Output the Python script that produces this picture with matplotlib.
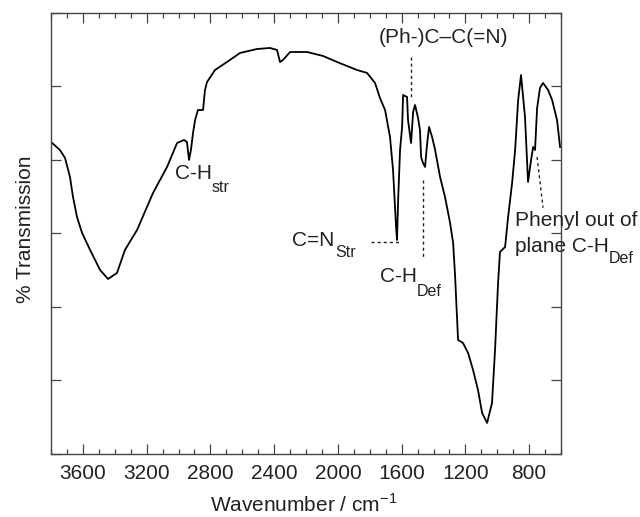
import matplotlib
matplotlib.use("Agg")
import matplotlib.pyplot as plt
from matplotlib.ticker import MultipleLocator, NullFormatter

plt.rcParams['font.family'] = ['Liberation Sans', 'DejaVu Sans']

# Spectrum (wavenumber in cm-1, transmission in arbitrary units)
wavenumber = [3800, 3744, 3712, 3681, 3662, 3637, 3605, 3555, 3492, 3442,
              3386, 3336, 3260, 3160, 3072, 3009, 2965, 2947, 2934, 2922,
              2909, 2896, 2878, 2846, 2834, 2821, 2771, 2696, 2614, 2507,
              2426, 2382, 2363, 2344, 2300, 2194, 2093, 2005, 1880, 1817,
              1767, 1736, 1704, 1673, 1654, 1635, 1629, 1622, 1610, 1597,
              1591, 1566, 1560, 1541, 1528, 1516, 1497, 1485, 1478, 1466,
              1453, 1441, 1428, 1409, 1390, 1359, 1328, 1296, 1277, 1265,
              1246, 1215, 1183, 1152, 1121, 1095, 1064, 1033, 1014, 995,
              983, 951, 932, 907, 888, 869, 851, 826, 807, 788,
              775, 763, 750, 732, 713, 681, 656, 625, 606]
transmission = [4.245, 4.136, 4.027, 3.769, 3.497, 3.224, 3.007, 2.776, 2.503, 2.381,
                2.463, 2.776, 3.048, 3.551, 3.905, 4.231, 4.272, 4.245, 4.000, 4.136,
                4.367, 4.544, 4.680, 4.680, 4.952, 5.061, 5.224, 5.333, 5.456, 5.510,
                5.524, 5.497, 5.333, 5.361, 5.469, 5.469, 5.415, 5.333, 5.224, 5.184,
                5.048, 4.844, 4.680, 4.313, 3.864, 3.088, 2.912, 3.456, 4.136, 4.449,
                4.884, 4.857, 4.544, 4.231, 4.653, 4.748, 4.571, 4.408, 4.041, 3.959,
                3.905, 4.204, 4.449, 4.313, 4.136, 3.769, 3.497, 3.143, 2.871, 2.435,
                1.551, 1.510, 1.374, 1.143, 0.871, 0.558, 0.422, 0.694, 1.415, 2.327,
                2.748, 2.816, 3.224, 3.687, 4.136, 4.816, 5.156, 4.585, 3.701, 4.000,
                4.177, 4.136, 4.707, 4.980, 5.048, 4.952, 4.816, 4.544, 4.177]

x_ticks = [3600, 3200, 2800, 2400, 2000, 1600, 1200, 800]
x_tick_labels = ['3600', '3200', '2800', '2400', '2000', '1600', '1200', '800']

fig = plt.figure(figsize=(6.4, 5.17), dpi=100)
ax = fig.add_axes([0.0797, 0.1219, 0.7969, 0.8530])

ax.plot(wavenumber, transmission, color='black', lw=1.3)

ax.set_xlim(3800, 600)
ax.set_ylim(0, 6)
ax.set_xticks(x_ticks)
ax.set_xticklabels(x_tick_labels)
ax.xaxis.set_minor_locator(MultipleLocator(100))
ax.yaxis.set_major_locator(MultipleLocator(1))
ax.yaxis.set_major_formatter(NullFormatter())
ax.tick_params(which='major', direction='in', length=7, width=0.9, color='#444444',
               top=True, right=True, labelsize=15, labelcolor='#222222', pad=7)
ax.tick_params(which='minor', direction='in', length=3.5, width=0.9, color='#444444',
               top=True, right=True)
for s in ax.spines.values():
    s.set_color('#444444')
    s.set_linewidth(1.0)

ax.set_xlabel('Wavenumber / cm$^{\\mathregular{-1}}$', fontsize=15, color='#222222', va='baseline')
ax.xaxis.set_label_coords(0.495, -0.131)
ax.set_ylabel('% Transmission', fontsize=15, color='#222222')
ax.yaxis.set_label_coords(-0.032, 0.51)

tc = '#222222'
fs = 15
sfs = 11.5
dash = (0, (2.2, 2.2))
# C-H str
ax.text(3022, 3.82, 'C-H', fontsize=fs, color=tc, va='center', ha='left')
ax.text(2790, 3.62, 'str', fontsize=sfs, color=tc, va='center', ha='left')
# C=N str
ax.text(2288, 2.90, 'C=N', fontsize=fs, color=tc, va='center', ha='left')
ax.text(2018, 2.74, 'Str', fontsize=sfs, color=tc, va='center', ha='left')
ax.plot([1790, 1603], [2.88, 2.88], color='#222222', lw=1, ls=dash)
# C-H Def
ax.text(1735, 2.41, 'C-H', fontsize=fs, color=tc, va='center', ha='left')
ax.text(1503, 2.21, 'Def', fontsize=sfs, color=tc, va='center', ha='left')
ax.plot([1466, 1466], [3.73, 2.68], color='#222222', lw=1, ls=dash)
# (Ph-)C-C(=N)
ax.text(1340, 5.66, '(Ph-)C\u2013C(=N)', fontsize=fs, color=tc, va='center', ha='center')
ax.plot([1541, 1541], [5.40, 4.82], color='#222222', lw=1, ls=dash)
# Phenyl out of plane C-H Def
ax.text(888, 3.18, 'Phenyl out of', fontsize=fs, color=tc, va='center', ha='left', clip_on=False)
ax.text(888, 2.82, 'plane C-H', fontsize=fs, color=tc, va='center', ha='left', clip_on=False)
ax.text(300, 2.66, 'Def', fontsize=sfs, color=tc, va='center', ha='left', clip_on=False)
ax.plot([750, 713], [4.04, 3.35], color='#222222', lw=1, ls=dash)

fig.savefig('out.png', dpi=100)
